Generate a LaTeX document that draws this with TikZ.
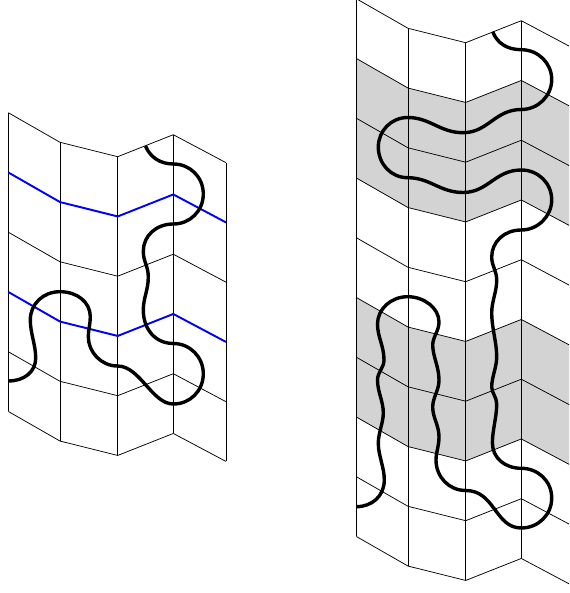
\documentclass[tikz,border=0pt]{standalone}
\definecolor{bandgray}{HTML}{D3D3D3}
\tikzset{
  grid line/.style={black,line width=0.75pt,line join=miter},
  blue line/.style={blue,line width=1.9pt,line join=miter},
  shaded band/.style={fill=bandgray,draw=none},
  knot/.style={black,line width=3.4pt,line cap=butt,line join=round},
}
% #1 x shift of the sheet, #2 y of the top line
\newcommand{\zigzag}[2]{(#1+8.3,#2) -- (#1+60,#2+29.6) -- (#1+117.7,#2+44) -- (#1+173.3,#2+22) -- (#1+226,#2+50)}
\newcommand{\sheet}[3]{%
  \foreach \r in {0,...,#3} {\draw[grid line] \zigzag{#1}{#2+\r*59.75};}
  \foreach \cx/\cy in {8.3/0,60/29.6,117.7/44,173.3/22,226/50}
    {\draw[grid line] (#1+\cx,#2+\cy) -- (#1+\cx,#2+\cy+#3*59.75);}
}
\begin{document}
\begin{tikzpicture}[x=1pt,y=-1pt]
\useasboundingbox (0,0) rectangle (569,593);
\clip (0,0) rectangle (569,593);
% right sheet bands
\foreach \t in {58.45,297.45} {
  \fill[shaded band] (356.3,\t) -- (408,\t+29.6) -- (465.7,\t+44) -- (521.3,\t+22) -- (574,\t+50)
     -- (574,\t+169.5) -- (521.3,\t+141.5) -- (465.7,\t+163.5) -- (408,\t+149.1) -- (356.3,\t+119.5) -- cycle;
}
% left sheet
\sheet{0}{112.7}{5}
\draw[blue line] \zigzag{0}{172.45};
\draw[blue line] \zigzag{0}{291.95};
% right sheet
\sheet{348}{-1.3}{9}
% left knot
\draw[knot] (145.5,146) .. controls (150,157) and (160,164) .. (173.3,164)
 .. controls (190,164) and (203.3,177) .. (203.3,194)
 .. controls (203.3,211) and (190,224) .. (173.3,224)
 .. controls (156,224) and (143.3,236) .. (143.3,251)
 .. controls (143.3,262) and (148.3,266) .. (148.3,277)
 .. controls (148.3,290) and (143.3,298) .. (143.3,310)
 .. controls (143.3,330) and (156,343.5) .. (173.3,343.5)
 .. controls (190,343.5) and (203.3,357) .. (203.3,373.7)
 .. controls (203.3,391) and (190,404) .. (173.3,404)
 .. controls (152,404) and (140,366) .. (117.5,366)
 .. controls (101,366) and (88.3,352) .. (88.3,336.7)
 .. controls (88.3,330) and (90.3,324) .. (90.3,316.7)
 .. controls (90.3,302) and (77,291.7) .. (60,291.7)
 .. controls (43,291.7) and (30.3,304) .. (30.3,320)
 .. controls (30.3,333) and (35.7,345) .. (35.7,358)
 .. controls (35.7,372) and (24,381) .. (8.3,381);
% right knot
\draw[knot] (492.7,31.7) .. controls (497,43) and (507,49.7) .. (521.3,49.7)
 .. controls (538,49.7) and (551.7,63) .. (551.7,79.5)
 .. controls (551.7,96) and (538,109.5) .. (521.3,109.5)
 .. controls (495,109.5) and (488,132.7) .. (463,132.7)
 .. controls (440,132.7) and (430,117.5) .. (407.7,117.5)
 .. controls (391,117.5) and (378.3,131) .. (378.3,147)
 .. controls (378.3,164) and (391,177.7) .. (407.7,177.7)
 .. controls (430,177.7) and (440,192.5) .. (463,192.5)
 .. controls (488,192.5) and (495,170) .. (521.3,170)
 .. controls (538,170) and (551.7,183) .. (551.7,200)
 .. controls (551.7,216) and (538,230) .. (521.3,230)
 .. controls (504,230) and (491.7,242) .. (491.7,257)
 .. controls (491.7,266) and (496.7,271) .. (496.7,280)
 .. controls (496.7,292) and (491.7,301) .. (491.7,313)
 .. controls (491.7,328) and (496.7,342) .. (496.7,357)
 .. controls (496.7,367) and (491.7,377) .. (491.7,387)
 .. controls (491.7,393) and (496.7,397) .. (496.7,404)
 .. controls (496.7,417) and (492.4,430) .. (492.4,443)
 .. controls (492.4,458) and (505,468.3) .. (521.3,468.3)
 .. controls (538,468.3) and (551.7,481) .. (551.7,498)
 .. controls (551.7,515) and (538,528) .. (521.3,528)
 .. controls (495,528) and (495,490.5) .. (465.7,490.5)
 .. controls (449,490.5) and (436,477) .. (436,460)
 .. controls (436,452) and (439,446) .. (439,437)
 .. controls (439,425) and (432.7,418) .. (432.7,407)
 .. controls (432.7,397) and (439,391) .. (439,380)
 .. controls (439,367) and (432.7,356) .. (432.7,345)
 .. controls (432.7,337) and (439,331) .. (439,322)
 .. controls (439,308) and (424,296.7) .. (407.7,296.7)
 .. controls (391,296.7) and (377.5,309) .. (377.5,324)
 .. controls (377.5,337) and (384,346) .. (384,360)
 .. controls (384,368) and (377.5,372) .. (377.5,380)
 .. controls (377.5,392) and (383.3,401) .. (383.3,413)
 .. controls (383.3,423) and (378.3,433) .. (378.3,443)
 .. controls (378.3,456) and (384.3,467) .. (384.3,480)
 .. controls (384.3,496) and (372,506.7) .. (356.3,506.7);
\end{tikzpicture}
\end{document}
